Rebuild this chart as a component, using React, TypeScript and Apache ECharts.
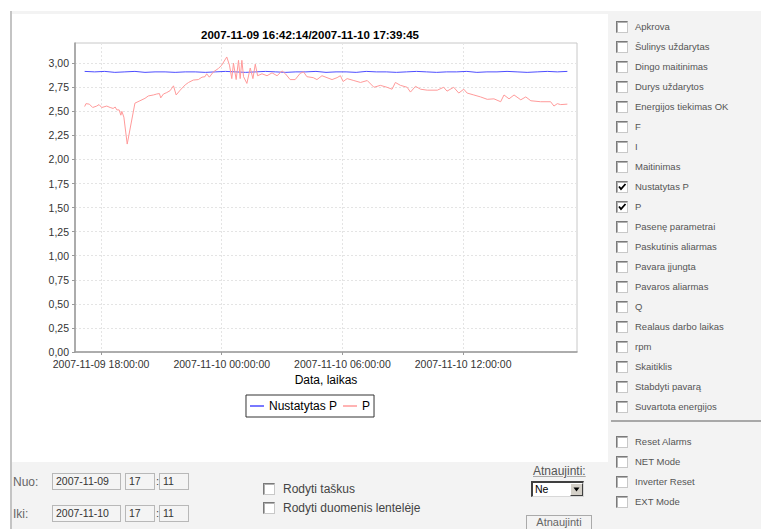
import React, { useEffect, useRef } from "react";
import * as echarts from "echarts";

const titleText = "2007-11-09 16:42:14/2007-11-10 17:39:45";
const xMin = "11-09 16:42:14";
const xMax = "11-10 17:39:45";
const xTickLabels = ["11-09 18:00:00", "11-10 00:00:00", "11-10 06:00:00", "11-10 12:00:00"];
const yTicks = [0, 0.25, 0.5, 0.75, 1, 1.25, 1.5, 1.75, 2, 2.25, 2.5, 2.75, 3];
const yMax = 3.21;
const xAxisName = "Data, laikas";
const seriesNames = ["Nustatytas P", "P"];

const pTimes = [
  "11-09 17:11", "11-09 17:15", "11-09 17:25", "11-09 17:35", "11-09 17:47", "11-09 17:54", "11-09 18:02", "11-09 18:17",
  "11-09 18:27", "11-09 18:36", "11-09 18:42", "11-09 18:47", "11-09 18:54", "11-09 18:59", "11-09 19:02", "11-09 19:08",
  "11-09 19:18", "11-09 19:41", "11-09 19:56", "11-09 20:11", "11-09 20:21", "11-09 20:36", "11-09 20:46", "11-09 20:54",
  "11-09 20:58", "11-09 21:06", "11-09 21:16", "11-09 21:26", "11-09 21:31", "11-09 21:36", "11-09 21:44", "11-09 21:56",
  "11-09 22:11", "11-09 22:21", "11-09 22:35", "11-09 22:50", "11-09 23:01", "11-09 23:10", "11-09 23:15", "11-09 23:23",
  "11-09 23:35", "11-09 23:50", "11-10 00:00", "11-10 00:15", "11-10 00:23", "11-10 00:30", "11-10 00:35", "11-10 00:43",
  "11-10 00:50", "11-10 00:55", "11-10 01:00", "11-10 01:05", "11-10 01:15", "11-10 01:25", "11-10 01:33", "11-10 01:40",
  "11-10 01:47", "11-10 02:00", "11-10 02:15", "11-10 02:30", "11-10 02:45", "11-10 03:00", "11-10 03:10", "11-10 03:24",
  "11-10 03:39", "11-10 03:54", "11-10 04:04", "11-10 04:14", "11-10 04:33", "11-10 04:44", "11-10 04:59", "11-10 05:14",
  "11-10 05:29", "11-10 05:44", "11-10 05:54", "11-10 06:02", "11-10 06:14", "11-10 06:34", "11-10 06:54", "11-10 07:14",
  "11-10 07:34", "11-10 07:53", "11-10 08:13", "11-10 08:28", "11-10 08:38", "11-10 08:53", "11-10 09:13", "11-10 09:23",
  "11-10 09:38", "11-10 09:53", "11-10 10:13", "11-10 10:43", "11-10 11:02", "11-10 11:12", "11-10 11:32", "11-10 11:47",
  "11-10 12:02", "11-10 12:12", "11-10 12:32", "11-10 12:52", "11-10 13:12", "11-10 13:32", "11-10 13:52", "11-10 14:02",
  "11-10 14:17", "11-10 14:32", "11-10 14:52", "11-10 15:07", "11-10 15:22", "11-10 15:51", "11-10 16:21", "11-10 16:31",
  "11-10 16:41", "11-10 16:51", "11-10 17:11",
];
const pValues = [
  2.55, 2.58, 2.575, 2.54, 2.555, 2.57, 2.54, 2.555,
  2.54, 2.53, 2.545, 2.515, 2.515, 2.46, 2.5, 2.44,
  2.16, 2.585, 2.61, 2.635, 2.66, 2.67, 2.68, 2.685,
  2.64, 2.68, 2.695, 2.715, 2.74, 2.765, 2.67, 2.72,
  2.775, 2.8, 2.825, 2.83, 2.855, 2.86, 2.89, 2.855,
  2.91, 2.945, 2.98, 3.065, 2.98, 2.84, 3.0, 2.83,
  3.03, 2.84, 3.03, 2.86, 2.79, 2.95, 2.84, 2.99,
  2.87, 2.89, 2.87, 2.9, 2.87, 2.92, 2.89, 2.83,
  2.83, 2.895, 2.91, 2.86, 2.85, 2.83, 2.87, 2.85,
  2.83, 2.85, 2.87, 2.81, 2.84, 2.82, 2.8, 2.82,
  2.75, 2.77, 2.75, 2.73, 2.8, 2.77, 2.75, 2.7,
  2.76, 2.73, 2.72, 2.72, 2.75, 2.71, 2.75, 2.69,
  2.73, 2.69, 2.67, 2.65, 2.625, 2.63, 2.6, 2.67,
  2.63, 2.67, 2.62, 2.65, 2.61, 2.6, 2.6, 2.555,
  2.58, 2.57, 2.575,
];

const setTimes = [
  "11-09 17:11", "11-09 17:41", "11-09 18:11", "11-09 18:41", "11-09 19:11", "11-09 19:41", "11-09 20:11",
  "11-09 20:41", "11-09 21:11", "11-09 21:41", "11-09 22:11", "11-09 22:41", "11-09 23:11", "11-09 23:41",
  "11-10 00:11", "11-10 00:41", "11-10 01:11", "11-10 01:41", "11-10 02:11", "11-10 02:41", "11-10 03:11",
  "11-10 03:41", "11-10 04:11", "11-10 04:41", "11-10 05:11", "11-10 05:41", "11-10 06:11", "11-10 06:41",
  "11-10 07:11", "11-10 07:41", "11-10 08:11", "11-10 08:41", "11-10 09:11", "11-10 09:41", "11-10 10:11",
  "11-10 10:41", "11-10 11:11", "11-10 11:41", "11-10 12:11", "11-10 12:41", "11-10 13:11", "11-10 13:41",
  "11-10 14:11", "11-10 14:41", "11-10 15:11", "11-10 15:41", "11-10 16:11", "11-10 16:41", "11-10 17:11",
];
const setValues = [
  2.915, 2.91, 2.915, 2.905, 2.91, 2.915, 2.905,
  2.91, 2.91, 2.905, 2.91, 2.91, 2.905, 2.91,
  2.915, 2.91, 2.905, 2.91, 2.915, 2.91, 2.905,
  2.91, 2.91, 2.915, 2.905, 2.91, 2.91, 2.905,
  2.915, 2.91, 2.91, 2.905, 2.91, 2.915, 2.91,
  2.905, 2.91, 2.91, 2.915, 2.905, 2.91, 2.91,
  2.915, 2.91, 2.905, 2.91, 2.915, 2.91, 2.915,
];

const signalItems = [
  "Apkrova", "Šulinys uždarytas", "Dingo maitinimas", "Durys uždarytos", "Energijos tiekimas OK", "F", "I",
  "Maitinimas", "Nustatytas P", "P", "Pasenę parametrai", "Paskutinis aliarmas", "Pavara įjungta",
  "Pavaros aliarmas", "Q", "Realaus darbo laikas", "rpm", "Skaitiklis", "Stabdyti pavarą", "Suvartota energijos",
];
const checkedItems = ["Nustatytas P", "P"];
const controlItems = ["Reset Alarms", "NET Mode", "Inverter Reset", "EXT Mode"];

const YEAR = 2007;
function toTs(s: string): number {
  const [md, hms] = s.split(" ");
  const [mo, d] = md.split("-").map(Number);
  const parts = hms.split(":").map(Number);
  return new Date(YEAR, mo - 1, d, parts[0], parts[1], parts[2] || 0).getTime();
}
const pad = (n: number) => (n < 10 ? "0" + n : "" + n);
function fmtTs(v: number): string {
  const d = new Date(v);
  return `${d.getFullYear()}-${pad(d.getMonth() + 1)}-${pad(d.getDate())} ${pad(d.getHours())}:${pad(d.getMinutes())}:${pad(d.getSeconds())}`;
}

const FONT = "'Liberation Sans', Arial, sans-serif";

function Box({ x, y, checked }: { x: number; y: number; checked?: boolean }) {
  return (
    <div
      style={{
        position: "absolute",
        left: x,
        top: y,
        width: 12,
        height: 12,
        boxSizing: "border-box",
        background: "#fff",
        borderTop: "1px solid #7a7a7a",
        borderLeft: "1px solid #7a7a7a",
        borderRight: "1px solid #c8c8c8",
        borderBottom: "1px solid #c8c8c8",
        boxShadow: "inset 1px 1px 0 #b0b0b0",
      }}
    >
      {checked && (
        <svg width="10" height="10" style={{ position: "absolute", left: 0, top: 0 }}>
          <polyline points="2,4.5 4,7 8.5,2" fill="none" stroke="#000" strokeWidth="1.8" />
        </svg>
      )}
    </div>
  );
}

function Label({ x, cy, text, size, color }: { x: number; cy: number; text: string; size: number; color: string }) {
  return (
    <div
      style={{
        position: "absolute",
        left: x,
        top: cy - 8,
        height: 16,
        lineHeight: "16px",
        fontSize: size,
        color,
        whiteSpace: "nowrap",
        fontFamily: FONT,
      }}
    >
      {text}
    </div>
  );
}

function Field({ x, y, w, h, text }: { x: number; y: number; w: number; h: number; text: string }) {
  return (
    <div
      style={{
        position: "absolute",
        left: x,
        top: y,
        width: w,
        height: h,
        boxSizing: "border-box",
        border: "1px solid #b8b8b8",
        background: "#f4f4f4",
        fontSize: 10.5,
        lineHeight: h - 2 + "px",
        paddingLeft: 3,
        color: "#333",
        fontFamily: FONT,
      }}
    >
      {text}
    </div>
  );
}

export default function App() {
  const ref = useRef<HTMLDivElement>(null);

  useEffect(() => {
    if (!ref.current) return;
    const chart = echarts.init(ref.current, null, { renderer: "svg" });
    const xTicks = xTickLabels.map(toTs);
    const option = {
      animation: false,
      backgroundColor: "#ffffff",
      textStyle: { fontFamily: FONT },
      title: {
        text: titleText,
        left: "center",
        top: 10,
        textStyle: { fontSize: 11.5, fontWeight: "bold", color: "#000", fontFamily: FONT },
      },
      grid: {
        left: 63,
        top: 29,
        width: 502,
        height: 309,
        show: true,
        borderColor: "#c8c8c8",
        borderWidth: 1,
        backgroundColor: "transparent",
      },
      legend: {
        data: seriesNames,
        left: "center",
        top: 381,
        borderColor: "#333",
        borderWidth: 1,
        padding: [5, 4, 5, 4],
        itemGap: 6,
        itemWidth: 14,
        itemHeight: 1.5,
        icon: "rect",
        textStyle: { fontSize: 12, color: "#000", fontFamily: FONT },
      },
      xAxis: {
        type: "value",
        min: toTs(xMin),
        max: toTs(xMax),
        scale: true,
        name: xAxisName,
        nameLocation: "middle",
        nameGap: 21,
        nameTextStyle: { fontSize: 12, color: "#000", fontFamily: FONT },
        axisLine: { show: true, lineStyle: { color: "#9a9a9a", width: 1.5 } },
        axisTick: { show: true, customValues: xTicks, length: 3, lineStyle: { color: "#9a9a9a" } },
        axisLabel: {
          customValues: xTicks,
          formatter: (v: number) => fmtTs(v),
          fontSize: 10.5,
          lineHeight: 11,
          color: "#333",
          margin: 6,
          fontFamily: FONT,
        },
        splitLine: { show: true, lineStyle: { color: "#e4e4e4", type: [2, 2], width: 1 } },
      },
      yAxis: {
        type: "value",
        min: 0,
        max: yMax,
        axisLine: { show: true, lineStyle: { color: "#9a9a9a", width: 1.5 } },
        axisTick: { show: true, customValues: yTicks, length: 3, lineStyle: { color: "#9a9a9a" } },
        axisLabel: {
          customValues: yTicks,
          formatter: (v: number) => v.toFixed(2).replace(".", ","),
          fontSize: 10.5,
          lineHeight: 10,
          color: "#333",
          margin: 6,
          fontFamily: FONT,
        },
        splitLine: { show: true, lineStyle: { color: "#e4e4e4", type: [2, 2], width: 1 } },
      },
      series: [
        {
          name: seriesNames[0],
          type: "line",
          data: setTimes.map((t, i) => [toTs(t), setValues[i]]),
          showSymbol: false,
          symbol: "none",
          lineStyle: { color: "#4d4dff", width: 1 },
          itemStyle: { color: "#4d4dff" },
        },
        {
          name: seriesNames[1],
          type: "line",
          data: pTimes.map((t, i) => [toTs(t), pValues[i]]),
          showSymbol: false,
          symbol: "none",
          lineStyle: { color: "#ff9a9a", width: 1 },
          itemStyle: { color: "#ff9a9a" },
        },
      ],
    };
    chart.setOption(option as any);
    return () => chart.dispose();
  }, []);

  return (
    <div
      style={{
        position: "absolute",
        left: 0,
        top: 0,
        width: 761,
        height: 529,
        background: "#fff",
        overflow: "hidden",
        fontFamily: FONT,
      }}
    >
      <div
        style={{
          position: "absolute",
          left: 10,
          top: 11,
          width: 751,
          height: 518,
          background: "#f3f3f3",
          borderLeft: "2px solid #c4c4c4",
          boxSizing: "border-box",
        }}
      />
      <div ref={ref} style={{ position: "absolute", left: 12, top: 14, width: 596, height: 448 }} />

      {signalItems.map((t, i) => (
        <React.Fragment key={t}>
          <Box x={616} y={21 + 20 * i} checked={checkedItems.includes(t)} />
          <Label x={635} cy={27 + 20 * i} text={t} size={9.5} color="#555" />
        </React.Fragment>
      ))}
      <div style={{ position: "absolute", left: 611, top: 420, width: 150, height: 2, background: "#a8a8a8" }} />
      {controlItems.map((t, i) => (
        <React.Fragment key={t}>
          <Box x={616} y={436 + 20 * i} />
          <Label x={635} cy={442 + 20 * i} text={t} size={9.5} color="#555" />
        </React.Fragment>
      ))}

      <Label x={13} cy={482} text="Nuo:" size={12} color="#666" />
      <Field x={52} y={473} w={69} h={17} text="2007-11-09" />
      <Field x={125} y={473} w={30} h={17} text="17" />
      <Label x={156} cy={481} text=":" size={11} color="#444" />
      <Field x={159} y={473} w={30} h={17} text="11" />

      <Label x={13} cy={514} text="Iki:" size={12} color="#666" />
      <Field x={52} y={505} w={69} h={17} text="2007-11-10" />
      <Field x={125} y={505} w={30} h={17} text="17" />
      <Label x={156} cy={513} text=":" size={11} color="#444" />
      <Field x={159} y={505} w={30} h={17} text="11" />

      <Box x={263} y={483} />
      <Label x={283} cy={489} text="Rodyti taškus" size={12} color="#444" />
      <Box x={263} y={502} />
      <Label x={283} cy={508} text="Rodyti duomenis lentelėje" size={12} color="#444" />

      <div
        style={{
          position: "absolute",
          left: 533,
          top: 464,
          fontSize: 12,
          lineHeight: "15px",
          color: "#555",
          textDecoration: "underline",
          textDecorationColor: "#aaa",
          fontFamily: FONT,
          whiteSpace: "nowrap",
        }}
      >
        Atnaujinti:
      </div>
      <div
        style={{
          position: "absolute",
          left: 531,
          top: 481,
          width: 53,
          height: 16,
          boxSizing: "border-box",
          background: "#fff",
          borderTop: "2px solid #404040",
          borderLeft: "2px solid #404040",
          borderRight: "1px solid #d8d8d8",
          borderBottom: "1px solid #d8d8d8",
          fontSize: 10.5,
          lineHeight: "13px",
          paddingLeft: 2,
          color: "#000",
          fontFamily: FONT,
        }}
      >
        Ne
        <div
          style={{
            position: "absolute",
            right: 0,
            top: 0,
            width: 13,
            height: 13,
            boxSizing: "border-box",
            background: "#d4d0c8",
            borderTop: "1px solid #fff",
            borderLeft: "1px solid #fff",
            borderRight: "1px solid #404040",
            borderBottom: "1px solid #404040",
          }}
        >
          <svg width="11" height="11" style={{ position: "absolute", left: 0, top: 0 }}>
            <polygon points="2.5,3.5 8.5,3.5 5.5,7.5" fill="#000" />
          </svg>
        </div>
      </div>
      <div
        style={{
          position: "absolute",
          left: 526,
          top: 515,
          width: 66,
          height: 20,
          boxSizing: "border-box",
          border: "1px solid #aaa",
          background: "#f3f3f3",
        }}
      />
      <div
        style={{
          position: "absolute",
          left: 526,
          top: 517,
          width: 66,
          height: 10,
          fontSize: 11,
          lineHeight: "10px",
          textAlign: "center",
          color: "#666",
          fontFamily: FONT,
        }}
      >
        Atnaujinti
      </div>
    </div>
  );
}
